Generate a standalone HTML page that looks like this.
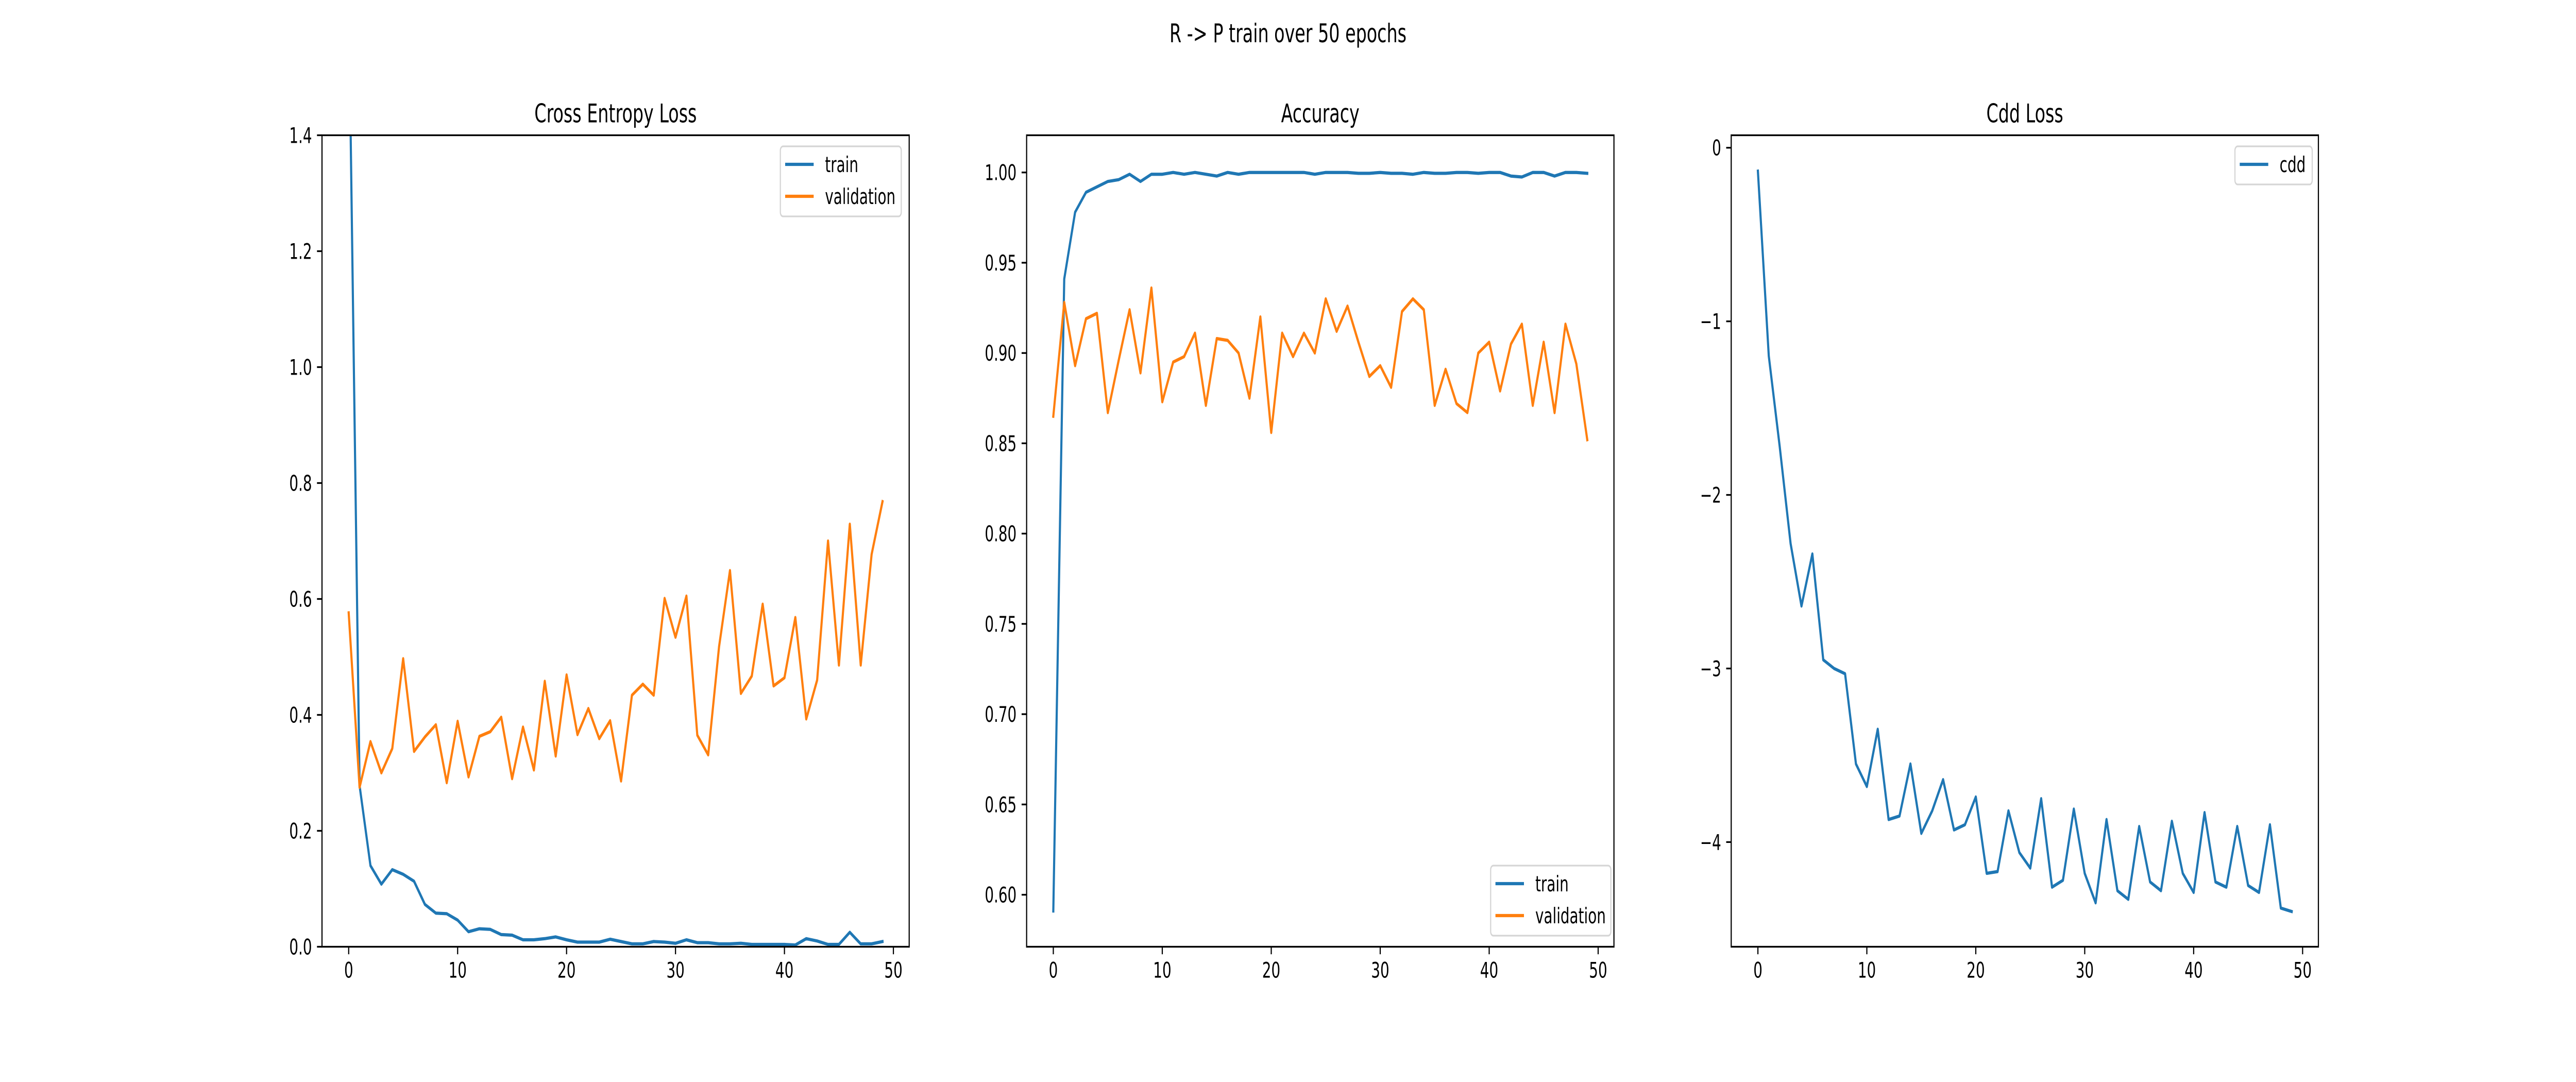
<!DOCTYPE html>
<html><head><meta charset="utf-8"><style>
html,body{margin:0;padding:0;background:#fff;overflow:hidden;}
svg{display:block;width:100vw;height:100vh;font-family:"DejaVu Sans","Liberation Sans",sans-serif;}
</style></head><body>
<svg id="fig" viewBox="0 0 7500 2100" preserveAspectRatio="none" xmlns="http://www.w3.org/2000/svg">
<rect width="7500" height="2100" fill="#fff"/>
<text x="3750" y="82" font-size="50" text-anchor="middle">R -&gt; P train over 50 epochs</text>
</svg>
<script>
const epochs = Array.from({length:50},(_, i)=>i);
const ceTrain = [1.65,0.278,0.14,0.108,0.133,0.125,0.113,0.073,0.058,0.057,0.046,0.026,0.031,0.030,0.021,0.020,0.012,0.012,0.014,0.017,0.012,0.008,0.008,0.008,0.013,0.009,0.005,0.005,0.009,0.008,0.006,0.012,0.007,0.007,0.005,0.005,0.006,0.004,0.004,0.004,0.004,0.003,0.014,0.010,0.004,0.004,0.025,0.005,0.005,0.009];
const ceVal = [0.576,0.275,0.354,0.300,0.342,0.497,0.337,0.362,0.383,0.283,0.389,0.293,0.363,0.371,0.396,0.290,0.379,0.305,0.458,0.329,0.469,0.366,0.411,0.359,0.390,0.286,0.434,0.453,0.434,0.601,0.534,0.605,0.365,0.331,0.518,0.649,0.437,0.467,0.591,0.450,0.464,0.568,0.393,0.460,0.700,0.486,0.729,0.486,0.677,0.768];
const accTrain = [0.591,0.941,0.978,0.989,0.992,0.995,0.996,0.999,0.995,0.999,0.999,1.0,0.999,1.0,0.999,0.998,1.0,0.999,1.0,1.0,1.0,1.0,1.0,1.0,0.999,1.0,1.0,1.0,0.9995,0.9995,1.0,0.9995,0.9995,0.999,1.0,0.9995,0.9995,1.0,1.0,0.9995,1.0,1.0,0.998,0.9975,1.0,1.0,0.998,1.0,1.0,0.9995];
const accVal = [0.865,0.928,0.893,0.919,0.922,0.867,0.896,0.924,0.889,0.936,0.873,0.895,0.898,0.911,0.871,0.908,0.907,0.900,0.875,0.920,0.856,0.911,0.898,0.911,0.900,0.930,0.912,0.926,0.906,0.887,0.893,0.881,0.923,0.930,0.924,0.871,0.891,0.872,0.867,0.900,0.906,0.879,0.905,0.916,0.871,0.906,0.867,0.916,0.894,0.852];
const cdd = [-0.135,-1.2,-1.72,-2.28,-2.64,-2.34,-2.95,-3.0,-3.03,-3.55,-3.68,-3.35,-3.87,-3.85,-3.55,-3.95,-3.82,-3.64,-3.93,-3.90,-3.74,-4.18,-4.17,-3.82,-4.06,-4.15,-3.75,-4.26,-4.22,-3.81,-4.18,-4.35,-3.87,-4.28,-4.33,-3.91,-4.23,-4.28,-3.88,-4.18,-4.29,-3.83,-4.23,-4.26,-3.91,-4.25,-4.29,-3.90,-4.38,-4.40];
const xTicks = [0,10,20,30,40,50];
const ceTicks = [0.0,0.2,0.4,0.6,0.8,1.0,1.2,1.4];
const ceTickLabels = ["0.0","0.2","0.4","0.6","0.8","1.0","1.2","1.4"];
const accTicks = [0.60,0.65,0.70,0.75,0.80,0.85,0.90,0.95,1.00];
const accTickLabels = ["0.60","0.65","0.70","0.75","0.80","0.85","0.90","0.95","1.00"];
const cddTicks = [0,-1,-2,-3,-4];
const cddTickLabels = ["0","\u22121","\u22122","\u22123","\u22124"];

const NS="http://www.w3.org/2000/svg";
const svg=document.getElementById('fig');
function mk(tag,attrs,parent){const e=document.createElementNS(NS,tag);for(const k in attrs)e.setAttribute(k,attrs[k]);(parent||svg).appendChild(e);return e;}
const TOP=262.5,BOT=1837.5;
const C1="#1f77b4",C2="#ff7f0e";
const FS=41.7, LW=6.25, AW=3.33, TL=14.6;

function panel(name,left,right,ymin,ymax,title,yt,ytl,series,legend){
  const g=mk('g',{});
  
  
  const xmin=-2.45,xmax=51.45;
  const sx=v=>left+(v-xmin)/(xmax-xmin)*(right-left);
  const sy=v=>BOT-(v-ymin)/(ymax-ymin)*(BOT-TOP);
  const cp=mk('clipPath',{id:'clip-'+name},g);
  mk('rect',{x:left,y:TOP,width:right-left,height:BOT-TOP},cp);
  series.forEach(s=>{
    const d=s.data.map((v,i)=>(i?'L':'M')+sx(epochs[i]).toFixed(1)+','+sy(v).toFixed(1)).join('');
    const p=mk('path',{d:d,fill:'none',stroke:s.color,'stroke-width':LW,'stroke-linejoin':'round','stroke-linecap':'square','clip-path':'url(#clip-'+name+')'},g);
    
    
  });
  const fr=mk('rect',{x:left,y:TOP,width:right-left,height:BOT-TOP,fill:'none',stroke:'#000','stroke-width':AW},g);
  
  
  xTicks.forEach(t=>{
    const x=sx(t);
    mk('line',{x1:x,y1:BOT,x2:x,y2:BOT+TL,stroke:'#000','stroke-width':AW},g);
    const tx=mk('text',{x:x,y:BOT+TL+14.6+31,'font-size':FS,'text-anchor':'middle'},g);
    tx.textContent=String(t);
    
    
  });
  yt.forEach((t,i)=>{
    const y=sy(t);
    mk('line',{x1:left-TL,y1:y,x2:left,y2:y,stroke:'#000','stroke-width':AW},g);
    const tx=mk('text',{x:left-TL-14.6,y:y+15,'font-size':FS,'text-anchor':'end'},g);
    tx.textContent=ytl[i];
    
    
  });
  const tt=mk('text',{x:(left+right)/2,y:TOP-25,'font-size':50,'text-anchor':'middle'},g);
  tt.textContent=title;
  
  
  const lg=mk('g',{},g);
  
  
  mk('rect',{x:legend.x,y:legend.y,width:legend.w,height:legend.h,rx:8,fill:'#fff','fill-opacity':0.8,stroke:'#d5d5d5','stroke-width':AW},lg);
  series.forEach((s,i)=>{
    const ry=legend.y+35+i*62;
    mk('line',{x1:legend.x+14,y1:ry,x2:legend.x+97,y2:ry,stroke:s.color,'stroke-width':LW},lg);
    const tx=mk('text',{x:legend.x+130,y:ry+15,'font-size':FS},lg);
    tx.textContent=s.label;
    
    
  });
}
panel('cross-entropy',937.5,2647.1,0,1.4,'Cross Entropy Loss',ceTicks,ceTickLabels,
  [{data:ceTrain,color:C1,label:'train'},{data:ceVal,color:C2,label:'validation'}],
  {x:2272,y:284,w:352,h:136});
panel('accuracy',2989,4699,0.5712,1.0206,'Accuracy',accTicks,accTickLabels,
  [{data:accTrain,color:C1,label:'train'},{data:accVal,color:C2,label:'validation'}],
  {x:4340,y:1680,w:350,h:136});
panel('cdd-loss',5040.4,6750,-4.603,0.072,'Cdd Loss',cddTicks,cddTickLabels,
  [{data:cdd,color:C1,label:'cdd'}],
  {x:6507,y:284,w:225,h:74});
</script>
</body></html>
